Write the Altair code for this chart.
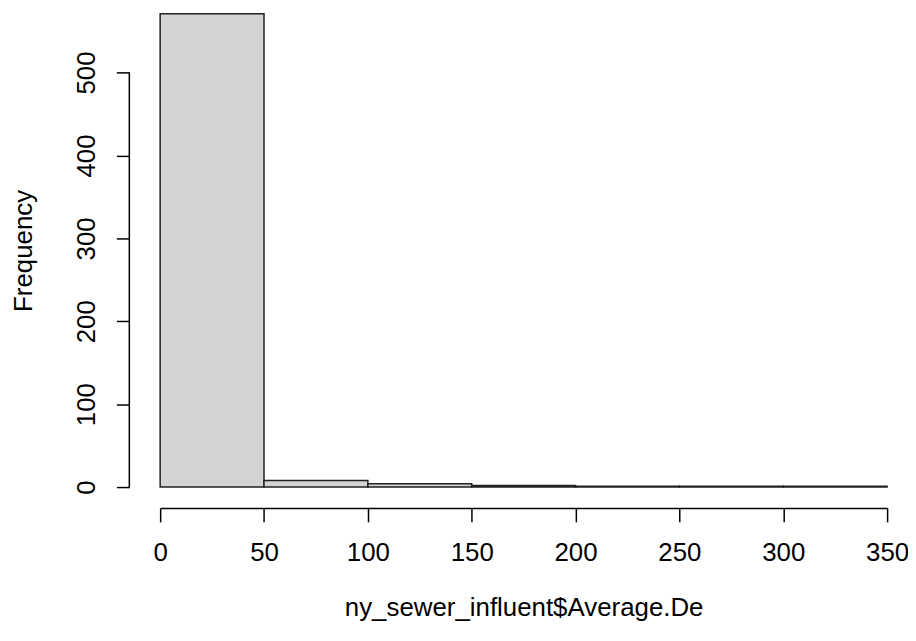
import altair as alt
import pandas as pd

bin_starts = [0, 50, 100, 150, 200, 250, 300]
bin_ends = [50, 100, 150, 200, 250, 300, 350]
counts = [571, 8, 4, 2, 1, 1, 1]
x_ticks = [0, 50, 100, 150, 200, 250, 300, 350]
y_ticks = [0, 100, 200, 300, 400, 500]

df = pd.DataFrame({"start": bin_starts, "end": bin_ends, "count": counts})
axis_df = pd.DataFrame({"count": [y_ticks[0]], "hi": [y_ticks[-1]]})

FONT = "Liberation Sans"
FS = 26

yaxis = alt.Axis(
    values=y_ticks, title="Frequency", offset=31, tickSize=13,
    domain=False, grid=False, labelAngle=270, labelAlign="center",
    labelBaseline="bottom", labelPadding=17, titlePadding=37,
    labelFontSize=FS, titleFontSize=FS, labelFont=FONT, titleFont=FONT,
    labelColor="black", titleColor="black", titleFontWeight="normal",
    tickColor="black", tickWidth=1.5, labelOverlap=False,
)
yscale = alt.Scale(domain=[0, 571], nice=False)

bars = alt.Chart(df).mark_rect(fill="#D3D3D3", stroke="#222222", strokeWidth=1.5).encode(
    x=alt.X(
        "start:Q",
        scale=alt.Scale(domain=[0, 350], nice=False, zero=False),
        axis=alt.Axis(
            values=x_ticks, title="ny_sewer_influent$Average.De", offset=21,
            tickSize=14, grid=False, labelPadding=18, titlePadding=29,
            labelFontSize=FS, titleFontSize=FS, labelFont=FONT, titleFont=FONT,
            labelColor="black", titleColor="black", titleFontWeight="normal",
            domainColor="black", tickColor="black", domainWidth=1.5, tickWidth=1.5,
            labelFlush=False, labelOverlap=False,
        ),
    ),
    x2="end:Q",
    y=alt.Y("count:Q", scale=yscale, axis=yaxis),
    y2=alt.datum(0),
)

yline = alt.Chart(axis_df).mark_rule(color="black", strokeWidth=1.5).encode(
    y=alt.Y("count:Q", scale=yscale, axis=yaxis),
    y2="hi:Q",
    x=alt.value(-31),
)

chart = alt.layer(bars, yline).properties(
    width=731,
    height=476,
    autosize=alt.AutoSizeParams(type="none"),
    padding={"left": 153, "top": 4, "right": 21, "bottom": 140},
    background="white",
).configure_view(stroke=None)

chart.save("out.html", embed_options={"renderer": "svg", "actions": False})
